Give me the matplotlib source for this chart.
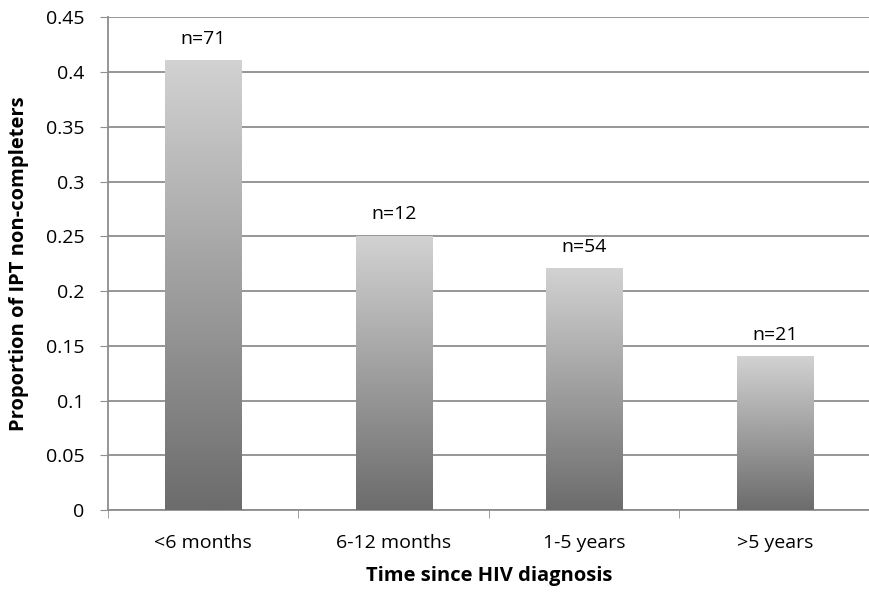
import numpy as np
import matplotlib
matplotlib.use("Agg")
import matplotlib.pyplot as plt
from matplotlib.colors import LinearSegmentedColormap

categories = ['<6 months', '6-12 months', '1-5 years', '>5 years']
proportions = [0.41, 0.25, 0.22, 0.14]
n_labels = ['n=71', 'n=12', 'n=54', 'n=21']

plt.rcParams['font.family'] = ['Open Sans', 'DejaVu Sans']

fig = plt.figure(figsize=(8.7, 5.94), dpi=100)
ax = fig.add_axes([0.124, 0.141, 0.876, 0.83])

x = np.arange(len(categories))
bars = ax.bar(x, proportions, width=0.4, color='none', edgecolor='none', zorder=3)

# vertical grey gradient inside each bar, light on top
cmap = LinearSegmentedColormap.from_list('bargrad', ['#6c6c6c', '#d2d2d2'])
grad = np.linspace(0, 1, 256).reshape(-1, 1)
for b in bars:
    x0 = b.get_x()
    x1 = x0 + b.get_width()
    h = b.get_height()
    ax.imshow(grad, cmap=cmap, origin='lower', aspect='auto',
              extent=(x0, x1, 0, h), zorder=3)

for xi, p, lbl in zip(x, proportions, n_labels):
    ax.text(xi, p + 0.012, lbl, ha='center', va='bottom', fontsize=14, color='black')

ax.set_xlim(-0.5, len(categories) - 0.5)
ax.set_ylim(0, 0.45)
ax.set_yticks(np.arange(0, 0.451, 0.05))
ax.set_yticklabels(['0', '0.05', '0.1', '0.15', '0.2', '0.25', '0.3', '0.35', '0.4', '0.45'])
ax.set_xticks(x)
ax.set_xticklabels(categories)
ax.set_xticks(np.arange(-0.5, len(categories), 1.0), minor=True)

ax.yaxis.grid(True, color='#8e8e8e', linewidth=1.3, zorder=0)
ax.set_axisbelow(True)
for s in ['top', 'right']:
    ax.spines[s].set_visible(False)
ax.spines['left'].set_color('#8e8e8e')
ax.spines['bottom'].set_color('#8e8e8e')
ax.spines['left'].set_linewidth(1.3)
ax.spines['bottom'].set_linewidth(1.3)

ax.tick_params(axis='y', length=6, color='#8e8e8e', labelsize=14, pad=11)
ax.tick_params(axis='x', which='major', length=0, labelsize=14, pad=17)
ax.tick_params(axis='x', which='minor', length=6, color='#8e8e8e')

ax.set_xlabel('Time since HIV diagnosis', fontsize=14.5, fontweight='bold', labelpad=10)
ax.set_ylabel('Proportion of IPT non-completers', fontsize=14.5, fontweight='bold', labelpad=12)

fig.savefig('out.png', dpi=100)
